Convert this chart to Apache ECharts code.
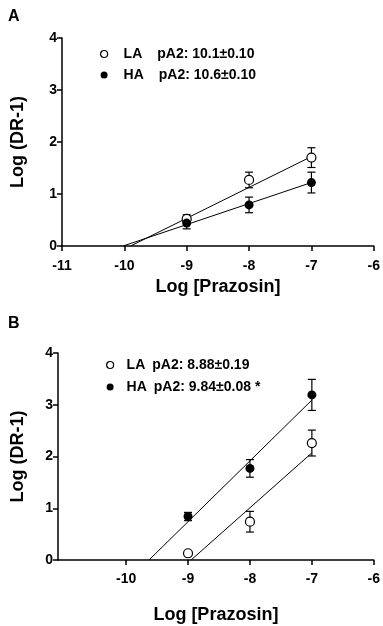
<!DOCTYPE html>
<html>
<head>
<meta charset="utf-8">
<script src="https://cdn.jsdelivr.net/npm/echarts@6/dist/echarts.min.js"></script>
<style>
  html, body { margin: 0; padding: 0; background: #fff; }
  #chart { width: 383px; height: 626px; }
</style>
</head>
<body>
<div id="chart"></div>
<script>
// doses (log molar prazosin)
var doses = [-9, -8, -7];

// panel A
var laA = [0.52, 1.27, 1.70];
var laAErr = [0.08, 0.15, 0.19];
var haA = [0.44, 0.79, 1.22];
var haAErr = [0.11, 0.15, 0.20];
var fitLaA = [[-9.9, 0], [-7, 1.72]];
var fitHaA = [[-10.02, 0], [-7, 1.22]];

// panel B
var laB = [0.13, 0.74, 2.26];
var laBErr = [0.03, 0.20, 0.25];
var haB = [0.84, 1.77, 3.19];
var haBErr = [0.08, 0.17, 0.30];
var fitLaB = [[-8.95, 0], [-7, 2.07]];
var fitHaB = [[-9.63, 0], [-7, 3.09]];

var xTicksB = [-10, -9, -8, -7, -6];
var legendA = { 'LA-A': ['LA', 'pA2: 10.1±0.10'], 'HA-A': ['HA', 'pA2: 10.6±0.10'] };
var legendB = { 'LA-B': ['LA', 'pA2: 8.88±0.19'], 'HA-B': ['HA', 'pA2: 9.84±0.08 *'] };

var FONT = '"Liberation Sans", Arial, sans-serif';

function points(ys) {
  var out = [];
  for (var i = 0; i < doses.length; i++) out.push([doses[i], ys[i]]);
  return out;
}
function errData(ys, es) {
  var out = [];
  for (var i = 0; i < doses.length; i++) out.push([doses[i], ys[i] - es[i], ys[i] + es[i]]);
  return out;
}
function renderErr(params, api) {
  var lo = api.coord([api.value(0), api.value(1)]);
  var hi = api.coord([api.value(0), api.value(2)]);
  var w = 4;
  var st = { stroke: '#000', lineWidth: 1.2 };
  return {
    type: 'group',
    children: [
      { type: 'line', shape: { x1: lo[0], y1: lo[1], x2: hi[0], y2: hi[1] }, style: st },
      { type: 'line', shape: { x1: lo[0] - w, y1: lo[1], x2: lo[0] + w, y2: lo[1] }, style: st },
      { type: 'line', shape: { x1: hi[0] - w, y1: hi[1], x2: hi[0] + w, y2: hi[1] }, style: st }
    ]
  };
}

var openStyle = { color: '#fff', borderColor: '#000', borderWidth: 1.2, opacity: 1 };
var fillStyle = { color: '#000', opacity: 1 };

function makeSeries(idx, name, ys, es, fit, style) {
  return [
    { type: 'line', xAxisIndex: idx, yAxisIndex: idx, data: fit, showSymbol: false, silent: true,
      lineStyle: { color: '#000', width: 1 }, z: 2 },
    { type: 'custom', xAxisIndex: idx, yAxisIndex: idx, data: errData(ys, es), renderItem: renderErr, z: 3 },
    { type: 'scatter', name: name, xAxisIndex: idx, yAxisIndex: idx, data: points(ys), symbolSize: 9,
      itemStyle: style, z: 4 }
  ];
}

function legendFmt(map) {
  return function (name) { return '{n|' + map[name][0] + '}{v|' + map[name][1] + '}'; };
}
function legendRich(padL, padR) {
  return {
    n: { fontFamily: FONT, fontWeight: 'bold', fontSize: 14, color: '#000', lineHeight: 16, padding: [0, padR, 0, padL] },
    v: { fontFamily: FONT, fontWeight: 'bold', fontSize: 14, color: '#000', lineHeight: 16 }
  };
}

var axisLine = { show: true, lineStyle: { color: '#000', width: 1.5 } };
var axisTick = { show: true, length: 5, lineStyle: { color: '#000', width: 1.5 } };
var labelStyle = { color: '#000', fontFamily: FONT, fontWeight: 'bold', fontSize: 14 };
var nameStyle = { color: '#000', fontFamily: FONT, fontWeight: 'bold', fontSize: 18 };

var option = {
  animation: false,
  backgroundColor: '#fff',
  title: [
    { text: 'A', left: 3, top: 4, textStyle: { fontFamily: FONT, fontWeight: 'bold', fontSize: 16, color: '#000' } },
    { text: 'B', left: 3, top: 311, textStyle: { fontFamily: FONT, fontWeight: 'bold', fontSize: 16, color: '#000' } }
  ],
  grid: [
    { left: 62, top: 38, width: 314, height: 208 },
    { left: 58, top: 353, width: 316, height: 207 }
  ],
  legend: [
    { orient: 'vertical', left: 95, top: 42, itemWidth: 7, itemHeight: 7, itemGap: 7,
      data: [{ name: 'LA-A', itemStyle: openStyle }, { name: 'HA-A', itemStyle: fillStyle }],
      formatter: legendFmt(legendA), textStyle: { rich: legendRich(11, 15) } },
    { orient: 'vertical', left: 101, top: 353, itemWidth: 7, itemHeight: 7, itemGap: 8,
      data: [{ name: 'LA-B', itemStyle: openStyle }, { name: 'HA-B', itemStyle: fillStyle }],
      formatter: legendFmt(legendB), textStyle: { rich: legendRich(8, 7) } }
  ],
  xAxis: [
    { gridIndex: 0, type: 'value', min: -11, max: -6, interval: 1,
      name: 'Log [Prazosin]', nameLocation: 'middle', nameGap: 32, nameTextStyle: nameStyle,
      axisLine: axisLine, axisTick: axisTick, splitLine: { show: false },
      axisLabel: Object.assign({ margin: 13 }, labelStyle) },
    { gridIndex: 1, type: 'value', min: -11.1, max: -6,
      name: 'Log [Prazosin]', nameLocation: 'middle', nameGap: 46, nameTextStyle: nameStyle,
      axisLine: axisLine, splitLine: { show: false },
      axisTick: Object.assign({ customValues: xTicksB }, axisTick),
      axisLabel: Object.assign({ margin: 12, customValues: xTicksB }, labelStyle) }
  ],
  yAxis: [
    { gridIndex: 0, type: 'value', min: 0, max: 4, interval: 1,
      name: 'Log (DR-1)', nameLocation: 'middle', nameGap: 35, nameTextStyle: nameStyle,
      axisLine: axisLine, axisTick: axisTick, splitLine: { show: false },
      axisLabel: Object.assign({ margin: 5 }, labelStyle) },
    { gridIndex: 1, type: 'value', min: 0, max: 4, interval: 1,
      name: 'Log (DR-1)', nameGap: 31, nameLocation: 'middle', nameTextStyle: nameStyle,
      axisLine: axisLine, axisTick: axisTick, splitLine: { show: false },
      axisLabel: Object.assign({ margin: 5 }, labelStyle) }
  ],
  series: [].concat(
    makeSeries(0, 'LA-A', laA, laAErr, fitLaA, openStyle),
    makeSeries(0, 'HA-A', haA, haAErr, fitHaA, fillStyle),
    makeSeries(1, 'LA-B', laB, laBErr, fitLaB, openStyle),
    makeSeries(1, 'HA-B', haB, haBErr, fitHaB, fillStyle)
  )
};

var chart = echarts.init(document.getElementById('chart'));
chart.setOption(option);
</script>
</body>
</html>
